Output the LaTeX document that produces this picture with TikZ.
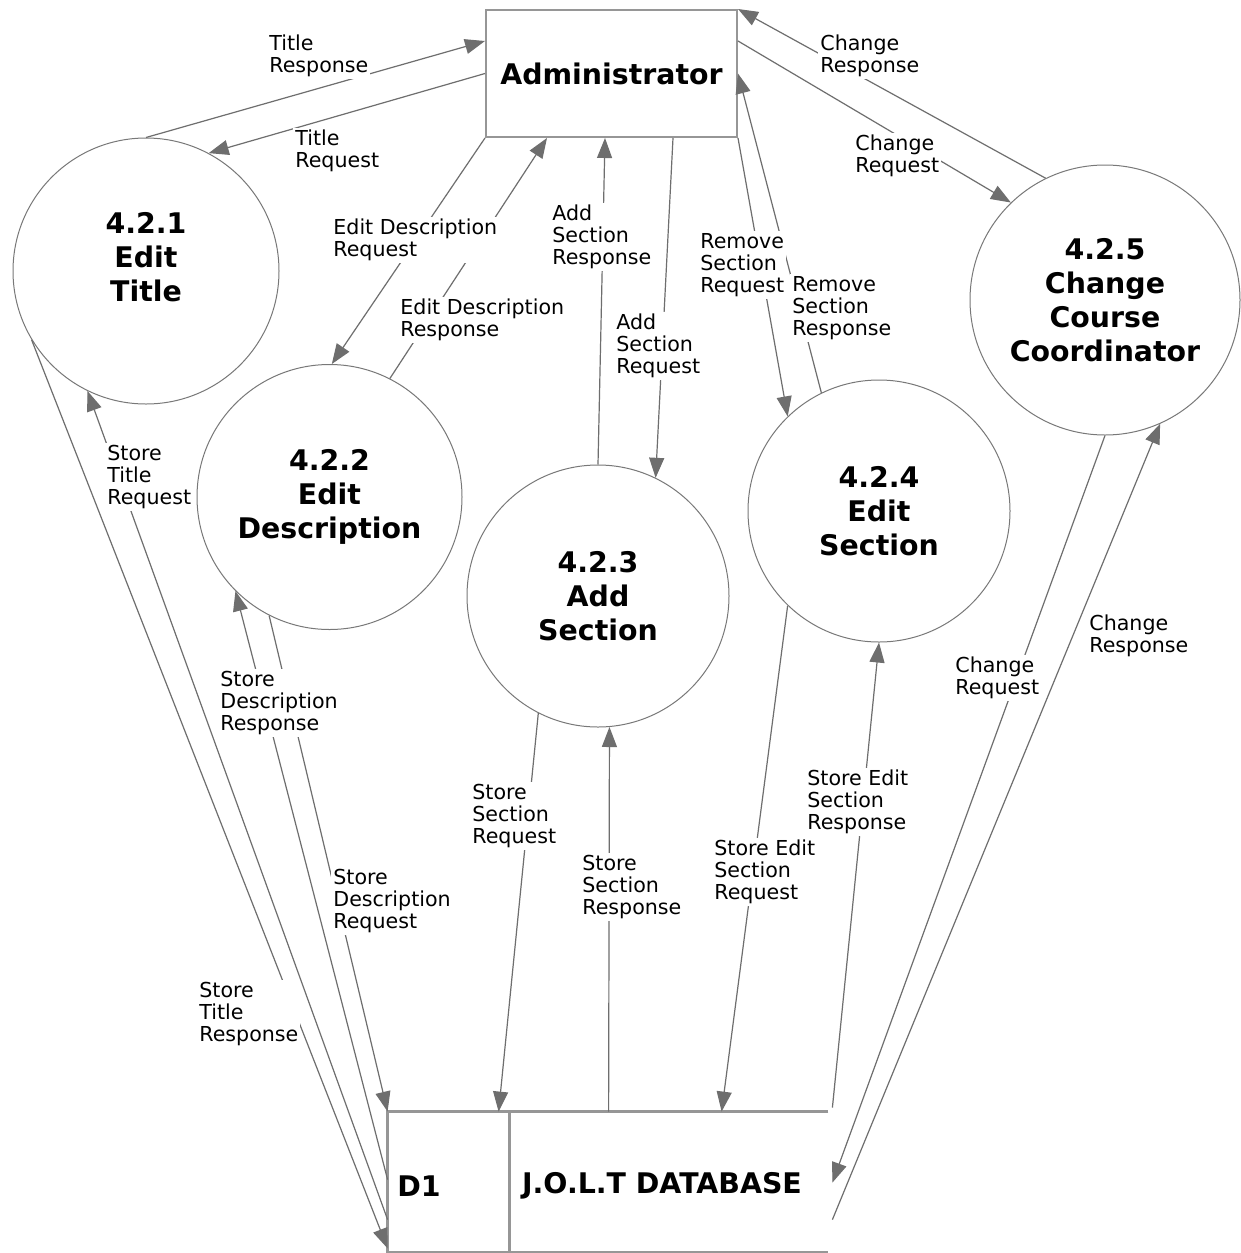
\documentclass[tikz,border=0pt]{standalone}
\usepackage{fontspec}
\setmainfont{DejaVu Sans}
\usetikzlibrary{arrows.meta,calc}
\definecolor{linegray}{RGB}{110,110,110}
\definecolor{circgray}{RGB}{120,120,120}
\definecolor{boxgray}{RGB}{150,150,150}
\begin{document}
\begin{tikzpicture}[x=0.5pt,y=-0.5pt,
  flow/.style={draw=linegray, line width=0.6pt, -{Triangle[length=10pt,width=7.5pt]}},
  proc/.style={circle, draw=circgray, line width=0.5pt, inner sep=0pt},
  ptext/.style={align=center, font=\bfseries\fontsize{14.2}{17}\selectfont},
  lbl/.style={fill=white, inner sep=1pt, align=left, anchor=west, font=\fontsize{10.3}{11}\selectfont},
  boxnode/.style={draw=boxgray, line width=1pt, minimum width=125.5pt, minimum height=63.5pt, inner sep=0pt, font=\bfseries\fontsize{14.2}{17}\selectfont},
  dbline/.style={draw=boxgray, line width=1.5pt}
]
\fill[white] (0,0) rectangle (1241,1253);
\useasboundingbox (0,0) rectangle (1241,1253);

% external entity
\node[boxnode] (admin) at (611.5,73.5) {Administrator};

% processes
\node[proc, minimum size=133pt] (c421) at (146,271) {};
\node[ptext] (t421) at (146,257) {4.2.1\\Edit\\Title};
\node[proc, minimum size=132.5pt, ptext] (c422) at (329.5,497) {4.2.2\\Edit\\Description};
\node[proc, minimum size=131pt, ptext] (c423) at (598,596) {4.2.3\\Add\\Section};
\node[proc, minimum size=131pt, ptext] (c424) at (879,511) {4.2.4\\Edit\\Section};
\node[proc, minimum size=135pt, ptext] (c425) at (1105,300) {4.2.5\\Change\\Course\\Coordinator};

% data store
\node[minimum width=220pt, minimum height=70pt, inner sep=0pt] (db) at (608,1182) {};
\draw[dbline] (db.north east) -- (db.north west) -- (db.south west) -- (db.south east);
\draw[dbline] ($(db.north west)+(122,0)$) -- ($(db.south west)+(122,0)$);
\node[ptext] (d1) at (419,1186) {D1};
\node[ptext] (dbname) at (662,1186) {J.O.L.T DATABASE};

% flows: administrator side
\draw[flow] (c421.90) -- ($(admin.north west)+(0,32)$);
\draw[flow] (admin.west) -- (c421.62);
\draw[flow] (admin.south west) -- (c422.89);
\draw[flow] (c422.63) -- ($(admin.south west)+(62,0)$);
\draw[flow] (c423.90) -- ($(admin.south west)+(120,0)$);
\draw[flow] ($(admin.south west)+(188,0)$) -- (c423.64);
\draw[flow] (admin.south east) -- (c424.134);
\draw[flow] (c424.116) -- (admin.east);
\draw[flow] (c425.116) -- (admin.north east);
\draw[flow] ($(admin.north east)+(0,32)$) -- (c425.134);

% flows: data store side
\draw[flow] (c421.211) -- ($(db.south west)+(0,-4)$);
\draw[flow] ($(db.north west)+(0,108)$) -- (c421.244);
\draw[flow] ($(db.north west)+(0,68)$) -- (c422.225);
\draw[flow] (c422.243) -- (db.north west);
\draw[flow] (c423.243) -- ($(db.north west)+(111,0)$);
\draw[flow] ($(db.north west)+(221,0)$) -- (c423.275);
\draw[flow] (c424.226) -- ($(db.north west)+(334,0)$);
\draw[flow] ($(db.north east)+(4,-4)$) -- (c424.270);
\draw[flow] (c425.270) -- ($(db.north east)+(4,71)$);
\draw[flow] ($(db.north east)+(4,108)$) -- (c425.294);

% labels
\node[lbl] (l1) at (267,56) {Title\\Response};
\node[lbl] (l2) at (293,151) {Title\\Request};
\node[lbl] (l3) at (331,240) {Edit Description\\Request};
\node[lbl] (l4) at (398,320) {Edit Description\\Response};
\node[lbl] (l5) at (550,237) {Add\\Section\\Response};
\node[lbl] (l6) at (614,346) {Add\\Section\\Request};
\node[lbl] (l7) at (698,265) {Remove\\Section\\Request};
\node[lbl] (l8) at (790,308) {Remove\\Section\\Response};
\node[lbl] (l9) at (818,56) {Change\\Response};
\node[lbl] (l10) at (853,156) {Change\\Request};
\node[lbl] (l11) at (105,477) {Store\\Title\\Request};
\node[lbl] (l12) at (218,703) {Store\\Description\\Response};
\node[lbl] (l13) at (331,901) {Store\\Description\\Request};
\node[lbl] (l14) at (197,1014) {Store\\Title\\Response};
\node[lbl] (l15) at (470,816) {Store\\Section\\Request};
\node[lbl] (l16) at (580,887) {Store\\Section\\Response};
\node[lbl] (l17) at (712,872) {Store Edit\\Section\\Request};
\node[lbl] (l18) at (805,802) {Store Edit\\Section\\Response};
\node[lbl] (l19) at (953,678) {Change\\Request};
\node[lbl] (l20) at (1087,636) {Change\\Response};
\end{tikzpicture}
\end{document}
